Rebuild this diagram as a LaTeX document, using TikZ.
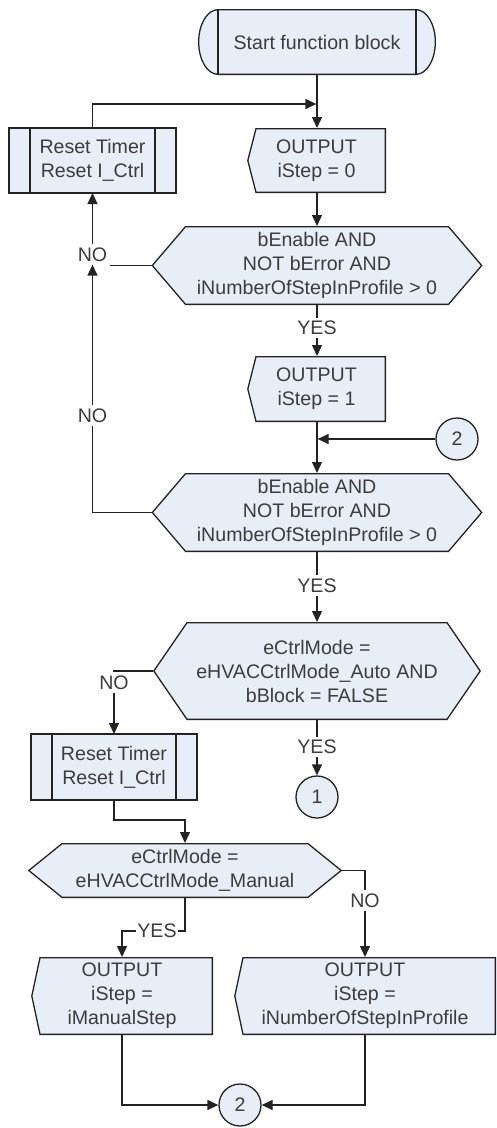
\documentclass[tikz,border=0pt]{standalone}
\usepackage{fontspec}
\setmainfont{Liberation Sans}
\usetikzlibrary{arrows.meta,calc}
\definecolor{bxfill}{RGB}{232,238,248}
\definecolor{lncol}{RGB}{35,35,35}
\definecolor{txcol}{RGB}{60,60,60}
\tikzset{
  shp/.style={draw=lncol,fill=bxfill,line width=1.3pt},
  txtnode/.style={inner sep=0pt,outer sep=0pt,align=center},
  startbox/.style={txtnode,minimum width=238pt,minimum height=66pt,path picture={
    \draw[shp] ([shift={(20pt,-.65pt)}]path picture bounding box.north west) -- ([shift={(-20pt,-.65pt)}]path picture bounding box.north east)
      arc[start angle=90,end angle=-90,x radius=19.35pt,y radius=32.35pt] -- ([shift={(20pt,.65pt)}]path picture bounding box.south west)
      arc[start angle=270,end angle=90,x radius=19.35pt,y radius=32.35pt] -- cycle;
    \draw[shp,fill=none] ([xshift=20pt]path picture bounding box.north west) -- ([xshift=20pt]path picture bounding box.south west)
      ([xshift=-20pt]path picture bounding box.north east) -- ([xshift=-20pt]path picture bounding box.south east);}},
  procbox/.style 2 args={txtnode,shp,minimum width=#1,minimum height=#2,path picture={
    \draw[shp,fill=none] ([xshift=21pt]path picture bounding box.north west) -- ([xshift=21pt]path picture bounding box.south west)
      ([xshift=-21pt]path picture bounding box.north east) -- ([xshift=-21pt]path picture bounding box.south east);}},
  decbox/.style 2 args={txtnode,minimum width=#1,minimum height=#2,path picture={
    \draw[shp] ([shift={(34pt,-.65pt)}]path picture bounding box.north west) -- ([shift={(-34pt,-.65pt)}]path picture bounding box.north east)
      -- ([xshift=-.8pt]path picture bounding box.east) -- ([shift={(-34pt,.65pt)}]path picture bounding box.south east)
      -- ([shift={(34pt,.65pt)}]path picture bounding box.south west) -- ([xshift=.8pt]path picture bounding box.west) -- cycle;}},
  outbox/.style 2 args={txtnode,minimum width=#1,minimum height=#2,path picture={
    \draw[shp] ([xshift=.8pt]path picture bounding box.west) -- ([shift={(9pt,-.65pt)}]path picture bounding box.north west)
      -- ([shift={(-.65pt,-.65pt)}]path picture bounding box.north east) -- ([shift={(-.65pt,.65pt)}]path picture bounding box.south east)
      -- ([shift={(9pt,.65pt)}]path picture bounding box.south west) -- cycle;}},
  conn/.style={circle,shp,minimum size=42pt,inner sep=0pt},
  lbl/.style={inner sep=3pt},
  link/.style={draw=lncol,line width=1.3pt},
  arr/.style={link,-{Triangle[length=11pt,width=10pt]}}
}
\begin{document}
\begin{tikzpicture}[x=1pt,y=-1pt,every node/.style={text=txcol,font=\fontsize{19.6}{24}\selectfont}]
\useasboundingbox (0,0) rectangle (497,1128);
% blocks
\node[startbox] (start) at (317,42) {Start function block};
\node[procbox={167pt}{65pt}] (reset1) at (92.5,160.5) {Reset Timer\\Reset I\_Ctrl};
\node[outbox={139pt}{65pt}] (out0) at (316.5,160.5) {OUTPUT\\iStep = 0};
\node[decbox={331pt}{79pt}] (dec1) at (317,265.5) {bEnable AND\\NOT bError AND\\iNumberOfStepInProfile > 0};
\node[outbox={139pt}{66pt}] (out1) at (316.5,389) {OUTPUT\\iStep = 1};
\node[conn] (con2a) at (457,439) {2};
\node[decbox={331pt}{79pt}] (dec2) at (317,512.5) {bEnable AND\\NOT bError AND\\iNumberOfStepInProfile > 0};
\node[decbox={328pt}{98pt}] (dec3) at (317,671) {eCtrlMode =\\eHVACCtrlMode\_Auto AND\\bBlock = FALSE};
\node[conn] (con1) at (317,797) {1};
\node[procbox={166pt}{66pt}] (reset2) at (114,767) {Reset Timer\\Reset I\_Ctrl};
\node[decbox={314pt}{55pt}] (dec4) at (185,870.5) {eCtrlMode =\\eHVACCtrlMode\_Manual};
\node[outbox={182pt}{78pt}] (out2) at (122,996) {OUTPUT\\iStep =\\iManualStep};
\node[outbox={262pt}{78pt}] (out3) at (365,996) {OUTPUT\\iStep =\\iNumberOfStepInProfile};
\node[conn] (con2b) at (240,1105) {2};
% labels
\node[lbl] (no1) at (92.5,254.5) {NO};
\node[lbl] (no2) at (92.5,415.5) {NO};
\node[lbl] (yes1) at (317,328) {YES};
\node[lbl] (yes2) at (317,585.5) {YES};
\node[lbl] (no3) at (114,682.5) {NO};
\node[lbl] (yes3) at (317,747) {YES};
\node[lbl] (no4) at (365,900.5) {NO};
\node[lbl,inner sep=1pt] (yes4) at (157,931) {YES};
\coordinate (jn1) at (317,104);
% connectors
\draw[arr] (start.south) -- (out0.north -| start.south);
\draw[arr,shorten >=0.65pt] (reset1.north) |- (jn1);
\draw[arr] (out0.south -| dec1.north) -- (dec1.north);
\draw[link] (dec1.west) -- (dec1.west -| no1.east);
\draw[arr] (no1.north) -- (reset1.south);
\draw[link] (dec2.west) -| (no2.south);
\draw[arr] (no2.north) -- (no1.south);
\draw[link] (dec1.south) -- (yes1.north);
\draw[arr] (yes1.south) -- (out1.north -| yes1.south);
\draw[arr] (out1.south -| dec2.north) -- (dec2.north);
\draw[arr,shorten >=0.65pt] (con2a.west) -- (con2a.west -| dec2.north);
\draw[link] (dec2.south) -- (yes2.north);
\draw[arr] (yes2.south) -- (dec3.north);
\draw[link] (dec3.west) -| (no3.north);
\draw[arr] (no3.south) -- (reset2.north);
\draw[link] (dec3.south) -- (yes3.north);
\draw[arr] (yes3.south) -- (con1.north);
\draw[arr] (reset2.south) -- ++(0,20) -| (dec4.north);
\draw[link] (dec4.east) -| (no4.north);
\draw[arr] (no4.south) -- (out3.north);
\draw[link] (dec4.south) |- (yes4.east);
\draw[arr] (yes4.west) -| (out2.north);
\draw[arr] (out2.south) |- (con2b.west);
\draw[arr] (out3.south) |- (con2b.east);
\end{tikzpicture}
\end{document}
